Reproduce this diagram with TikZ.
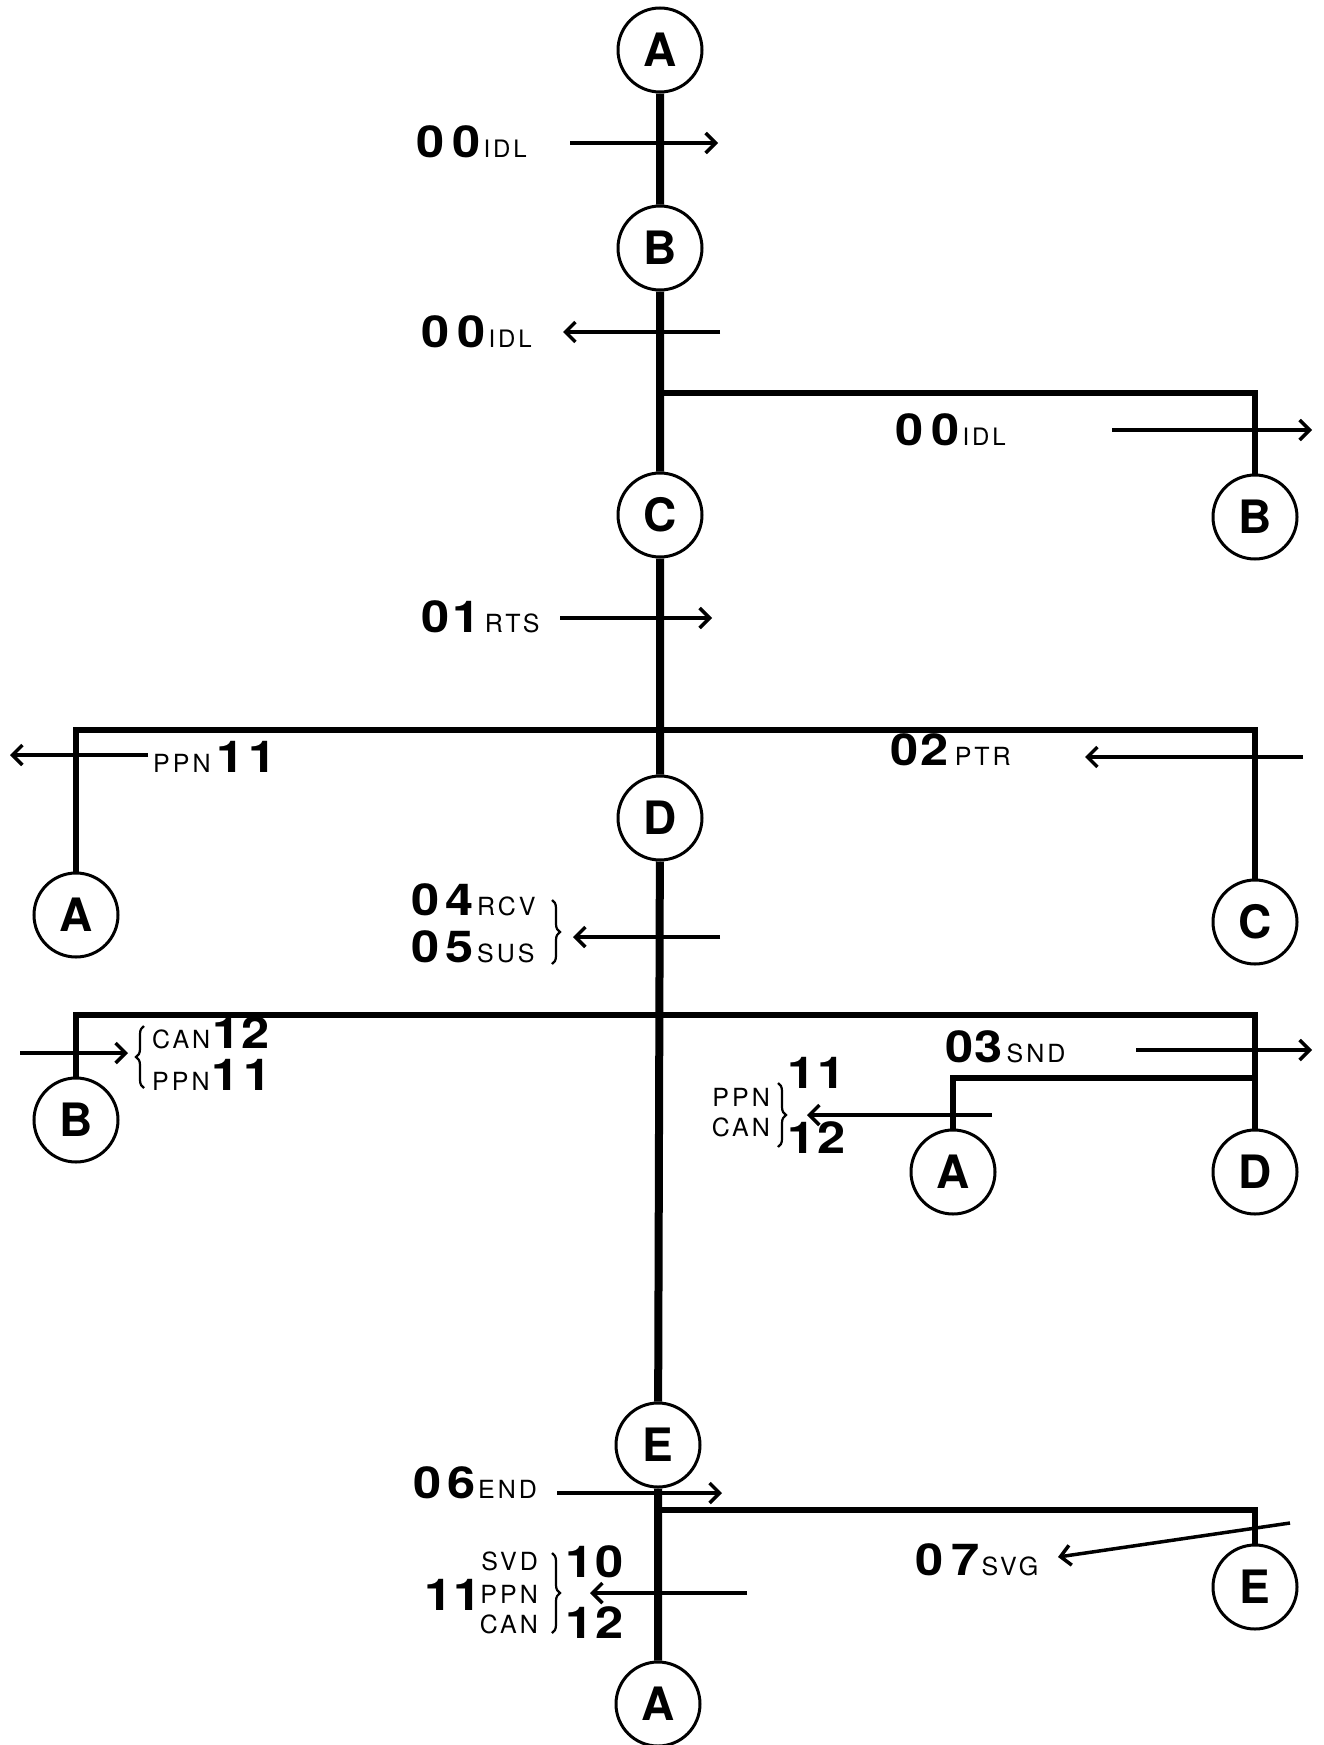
\documentclass[tikz,border=0pt]{standalone}
\usepackage{fontspec}
\usepackage{graphicx}
\setmainfont{TeX Gyre Heros}
\newfontfamily\smallf[LetterSpace=12]{TeX Gyre Heros}
\usetikzlibrary{arrows.meta,decorations.pathreplacing}
\newcommand\numt[1]{{\fontsize{44}{44}\selectfont\bfseries\scalebox{1.15}[1]{#1}}}
\newcommand\smt[1]{{\smallf\fontsize{25}{25}\selectfont #1}}
\newcommand\smi[1]{{\smallf\fontsize{24}{24}\selectfont #1}}
\begin{document}
\begin{tikzpicture}[x=1pt,y=-1pt,
 circ/.style={circle,draw,line width=3pt,minimum size=84pt,inner sep=0pt,font=\fontsize{46}{46}\selectfont\bfseries},
 mainln/.style={line width=8pt},
 branch/.style={line width=5.5pt},
 arr/.style={line width=3.5pt,-{Straight Barb[length=10pt,width=20pt]}},
 lbl/.style={inner sep=0pt,anchor=base west},
 lblr/.style={inner sep=0pt,anchor=base east},
 brc/.style={decorate,decoration={brace,amplitude=8pt},line width=2.2pt}]
\fill[white] (0,0) rectangle (1324,1745);
\useasboundingbox (0,0) rectangle (1324,1745);

% main column
\node[circ] (A0) at (660,50) {A};
\node[circ] (B0) at (660,248) {B};
\node[circ] (C0) at (660,515) {C};
\node[circ] (D0) at (660,818) {D};
\node[circ] (E0) at (658,1445) {E};
\node[circ] (A5) at (658,1704) {A};
% side circles
\node[circ] (B1) at (1255,517) {B};
\node[circ] (A1) at (76,915) {A};
\node[circ] (C1) at (1255,922) {C};
\node[circ] (B2) at (76,1120) {B};
\node[circ] (A2) at (953,1172) {A};
\node[circ] (D2) at (1255,1172) {D};
\node[circ] (E2) at (1255,1587) {E};

\draw[mainln] (A0) -- (B0) (B0) -- (C0) (C0) -- (D0) (D0) -- (E0) (E0) -- (A5);

\coordinate (j1) at (660,393);
\coordinate (j2) at (660,730);
\coordinate (j3) at (660,1015);
\coordinate (j4) at (1255,1078);
\coordinate (j5) at (660,1510);
\draw[branch] (j1) -| (B1.north);
\draw[branch] (A1.north) |- (j2) -| (C1.north);
\draw[branch] (B2.north) |- (j3) -| (D2.north);
\draw[branch] (A2.north) |- (j4);
\draw[branch] (j5) -| (E2.north);

% arrows
\coordinate (p1s) at (570,143);  \coordinate (p1e) at (718,143);
\coordinate (p2s) at (720,332);  \coordinate (p2e) at (563,332);
\coordinate (p3s) at (1112,430); \coordinate (p3e) at (1312,430);
\coordinate (p4s) at (560,618);  \coordinate (p4e) at (712,618);
\coordinate (p5s) at (148,755);  \coordinate (p5e) at (10,755);
\coordinate (p6s) at (1303,757); \coordinate (p6e) at (1085,757);
\coordinate (p7s) at (720,937);  \coordinate (p7e) at (573,937);
\coordinate (p8s) at (20,1053);  \coordinate (p8e) at (128,1053);
\coordinate (p9s) at (1136,1050);\coordinate (p9e) at (1312,1050);
\coordinate (p10s) at (992,1115);\coordinate (p10e) at (807,1115);
\coordinate (p11s) at (557,1493);\coordinate (p11e) at (722,1493);
\coordinate (p12s) at (747,1593);\coordinate (p12e) at (590,1593);
\coordinate (p13s) at (1290,1523);\coordinate (p13e) at (1058,1557);
\foreach \i in {1,...,13} {\draw[arr] (p\i s) -- (p\i e);}

% braces
\coordinate (b1t) at (552,900);  \coordinate (b1b) at (552,964);
\coordinate (b2t) at (144,1026); \coordinate (b2b) at (144,1088);
\coordinate (b3t) at (778,1083); \coordinate (b3b) at (778,1147);
\coordinate (b4t) at (552,1553); \coordinate (b4b) at (552,1633);
\draw[brc] (b1t) -- (b1b);
\draw[brc] (b2b) -- (b2t);
\draw[brc] (b3t) -- (b3b);
\draw[brc] (b4t) -- (b4b);

% labels
\node[lbl] (t1) at (416,157) {\numt{0\kern7pt0}\kern3pt\smi{IDL}};
\node[lbl] (t2) at (421,347) {\numt{0\kern7pt0}\kern3pt\smi{IDL}};
\node[lbl] (t3) at (895,445) {\numt{0\kern7pt0}\kern3pt\smi{IDL}};
\node[lbl] (t4) at (421,632) {\numt{0\kern3pt1}\kern4pt\smt{RTS}};
\node[lbl] (t5) at (153,772) {\smt{PPN}\kern6pt\numt{1\kern3pt1}};
\node[lbl] (t6) at (890,765) {\numt{0\kern2pt2}\kern6pt\smt{PTR}};
\node[lbl] (t7) at (411,915) {\numt{0\kern5pt4}\kern4pt\smt{RCV}};
\node[lbl] (t8) at (411,962) {\numt{0\kern5pt5}\kern4pt\smt{SUS}};
\node[lbl] (t9) at (152,1048) {\smt{CAN}\kern2pt\numt{1\kern1pt2}};
\node[lbl] (t10) at (152,1090) {\smt{PPN}\kern2pt\numt{1\kern3pt1}};
\node[lbl] (t11) at (945,1062) {\numt{0\kern1pt3}\kern4pt\smt{SND}};
\node[lblr] (t12) at (770,1106) {\smt{PPN}};
\node[lblr] (t13) at (770,1136) {\smt{CAN}};
\node[lbl] (t14) at (787,1088) {\numt{1\kern2pt1}};
\node[lbl] (t15) at (787,1153) {\numt{1\kern2pt2}};
\node[lbl] (t16) at (413,1498) {\numt{0\kern5pt6}\kern3pt\smt{END}};
\node[lbl] (t17) at (424,1610) {\numt{1\kern1pt1}};
\node[lblr] (t18) at (538,1570) {\smt{SVD}};
\node[lblr] (t19) at (538,1603) {\smt{PPN}};
\node[lblr] (t20) at (538,1633) {\smt{CAN}};
\node[lbl] (t21) at (565,1577) {\numt{1\kern2pt0}};
\node[lbl] (t22) at (565,1638) {\numt{1\kern2pt2}};
\node[lbl] (t23) at (915,1575) {\numt{0\kern7pt7}\kern2pt\smt{SVG}};
\end{tikzpicture}
\end{document}
